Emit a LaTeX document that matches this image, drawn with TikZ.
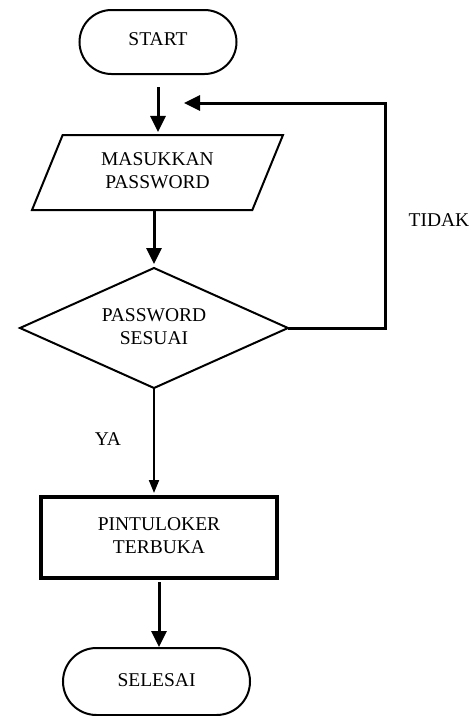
\documentclass[tikz,border=0pt]{standalone}
\usepackage{fontspec}
\setmainfont{Liberation Serif}
\usetikzlibrary{shapes.geometric,shapes.misc,arrows.meta}
\newcommand{\twolines}[2]{\begin{tabular}{@{}c@{}}#1\\#2\end{tabular}}
\begin{document}
\begin{tikzpicture}[x=1pt,y=-1pt,
  every node/.style={font=\fontsize{19.5}{23}\selectfont, align=center, inner sep=0pt, outer sep=0pt},
  term/.style={draw, line width=2pt, rounded rectangle},
  io/.style={draw, line width=2pt, trapezium, trapezium left angle=56.3, trapezium right angle=123.7, trapezium stretches body},
  decision/.style={draw, line width=2pt, diamond, aspect=2.2},
  process/.style={draw, line width=3.2pt},
  conn/.style={line width=3pt, -{Triangle[width=15pt,length=16pt]}},
  thinconn/.style={line width=2pt, -{Triangle[width=10pt,length=13pt]}},
  lbl/.style={font=\fontsize{19.5}{23}\selectfont}
]
\fill[white] (0,0) rectangle (473,716);
\useasboundingbox (0,0) rectangle (473,716);

\node[term, minimum width=157pt, minimum height=64pt] (start) at (158,42) {\raisebox{5pt}{START}};
\node[io, minimum width=251pt, minimum height=75pt] (inp) at (157.5,172.5) {\raisebox{5pt}{\twolines{MASUKKAN}{PASSWORD}}};
\node[decision, minimum width=268pt, minimum height=120pt] (dec) at (154,328) {\raisebox{2pt}{\twolines{PASSWORD}{SESUAI}}};
\node[process, minimum width=236pt, minimum height=81pt] (door) at (159,537.5) {\raisebox{6.5pt}{\twolines{PINTULOKER}{TERBUKA}}};
\node[term, minimum width=187pt, minimum height=67pt] (end) at (156.5,681.5) {\raisebox{3pt}{SELESAI}};

\node[lbl] (ya) at (108,439) {YA};
\node[lbl] (tidak) at (439,220) {TIDAK};

\coordinate (corner) at (385,103);
\coordinate (back) at (184,103);

\draw[conn, shorten <=13pt, shorten >=3pt] (start.south) -- (start.south |- inp.north);
\draw[conn, shorten >=4pt] (dec.north |- inp.south) -- (dec.north);
\draw[thinconn, shorten >=4pt] (dec.south) -- (dec.south |- door.north);
\draw[conn, shorten <=4pt, shorten >=1pt] (door.south) -- (door.south |- end.north);
\draw[conn] (dec.east) -- (dec.east -| corner) -- (corner) -- (back);
\end{tikzpicture}
\end{document}
